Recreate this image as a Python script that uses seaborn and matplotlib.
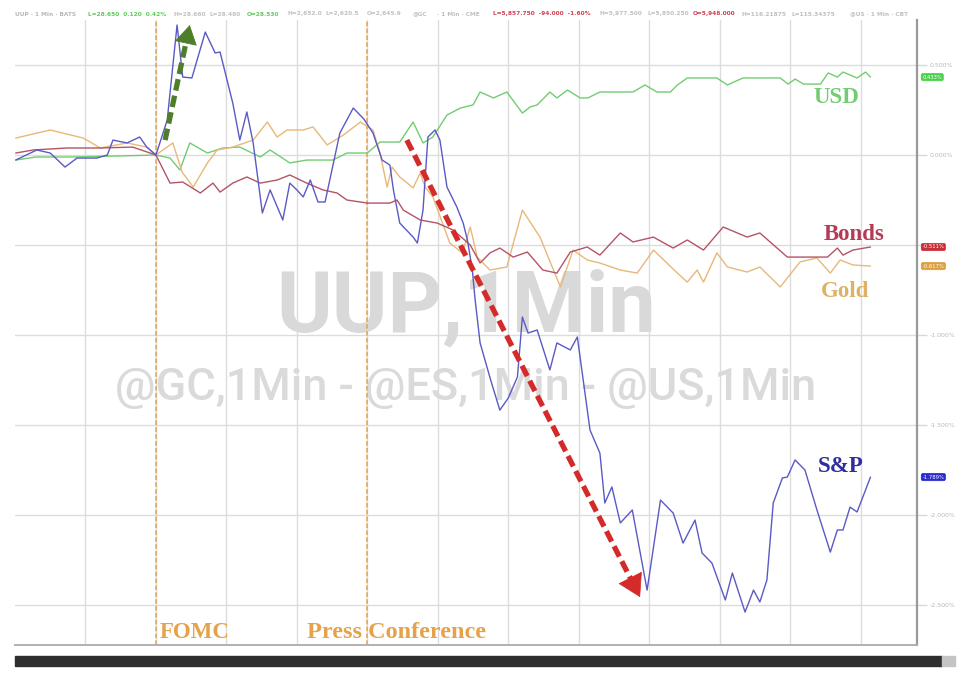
import matplotlib
matplotlib.use("Agg")
import numpy as np
import matplotlib.pyplot as plt
import matplotlib.transforms as mtransforms
from matplotlib.patches import Rectangle
import seaborn as sns

# === DATA: minutes after 13:40, % change vs 14:00 (FOMC) ===
sp_t = [0.1, 3.1, 5.0, 7.1, 8.8, 11.6, 13.1, 13.9, 15.9, 17.7, 18.7, 20.0, 21.6, 23.0, 23.8,
        25.1, 27.0, 28.4, 29.1, 30.9, 31.9, 32.9, 33.8, 35.1, 36.2, 38.0, 39.0, 40.0, 40.9,
        41.9, 43.0, 44.0, 46.1, 48.0, 49.5, 50.8, 52.1, 53.2, 53.7, 54.6, 56.5, 57.1, 57.9,
        58.6, 59.6, 60.3, 61.3, 62.7, 63.6, 64.2, 64.9, 65.3, 66.0, 67.5, 68.8, 70.0, 71.3,
        72.0, 72.8, 74.1, 75.9, 76.9, 78.8, 79.8, 81.6, 83.0, 83.7, 84.7, 85.9, 87.6, 89.7,
        91.6, 93.4, 94.8, 96.5, 97.5, 98.9, 100.8, 101.8, 103.6, 104.8, 105.7, 106.7, 107.6,
        108.9, 109.6, 110.7, 112.1, 113.8, 115.7, 116.7, 117.5, 118.5, 119.5, 121.4]
sp_v = [-0.028, 0.028, 0.011, -0.067, -0.017, -0.017, 0.0, 0.083, 0.067, 0.100, 0.044, 0.0,
        0.194, 0.722, 0.433, 0.428, 0.683, 0.567, 0.572, 0.289, 0.083, 0.239, 0.067, -0.322,
        -0.194, -0.361, -0.156, -0.194, -0.233, -0.139, -0.261, -0.261, 0.122, 0.261, 0.200,
        0.122, -0.028, -0.056, -0.194, -0.378, -0.456, -0.489, -0.306, 0.100, 0.139, 0.083,
        -0.178, -0.289, -0.378, -0.472, -0.639, -0.806, -1.044, -1.250, -1.417, -1.350,
        -1.233, -0.900, -0.989, -0.972, -1.194, -1.044, -1.083, -1.011, -1.528, -1.656,
        -1.933, -1.844, -2.044, -1.972, -2.417, -1.917, -1.989, -2.156, -2.028, -2.211,
        -2.267, -2.472, -2.322, -2.539, -2.417, -2.483, -2.361, -1.933, -1.794, -1.789,
        -1.694, -1.750, -1.972, -2.206, -2.083, -2.083, -1.956, -1.983, -1.789]

usd_t = [0.1, 3.0, 8.0, 14.0, 20.0, 22.0, 23.4, 24.8, 27.3, 29.5, 31.9, 34.8, 36.2, 39.0,
         41.4, 45.1, 47.1, 50.0, 51.8, 54.6, 56.5, 57.9, 59.3, 61.3, 63.2, 65.0, 66.0, 67.9,
         69.8, 72.0, 73.1, 74.1, 75.9, 76.9, 78.4, 80.2, 81.3, 83.0, 87.7, 89.4, 91.1, 93.0,
         94.0, 95.4, 99.6, 101.1, 103.3, 108.6, 109.7, 110.7, 111.9, 114.3, 115.4, 116.7,
         117.5, 119.5, 120.7, 121.4]
usd_v = [-0.028, -0.011, -0.011, -0.006, 0.0, -0.017, -0.083, 0.067, 0.011, 0.039, 0.044,
         -0.011, 0.028, -0.044, -0.028, -0.028, 0.011, 0.011, 0.072, 0.072, 0.183, 0.067,
         0.100, 0.222, 0.261, 0.278, 0.350, 0.317, 0.350, 0.233, 0.267, 0.278, 0.350, 0.317,
         0.361, 0.317, 0.317, 0.350, 0.350, 0.389, 0.350, 0.350, 0.389, 0.428, 0.428, 0.389,
         0.428, 0.428, 0.394, 0.422, 0.394, 0.394, 0.456, 0.433, 0.461, 0.428, 0.461, 0.433]

bonds_t = [0.1, 2.6, 7.4, 12.1, 16.7, 20.0, 22.0, 23.8, 26.3, 28.1, 29.1, 30.9, 32.9, 34.8,
           37.2, 39.0, 41.4, 43.7, 45.7, 47.1, 50.0, 53.2, 54.2, 55.1, 57.5, 59.9, 62.2,
           64.6, 66.0, 67.4, 68.8, 70.7, 72.7, 74.9, 76.9, 78.8, 81.2, 83.0, 85.9, 87.7,
           90.6, 93.4, 95.4, 97.7, 100.5, 103.9, 105.7, 109.6, 112.8, 115.3, 116.7, 117.5,
           118.9, 121.4]
bonds_v = [0.011, 0.028, 0.039, 0.039, 0.044, 0.0, -0.156, -0.150, -0.211, -0.156, -0.206,
           -0.156, -0.122, -0.156, -0.139, -0.111, -0.156, -0.194, -0.211, -0.250, -0.267,
           -0.267, -0.250, -0.306, -0.361, -0.378, -0.417, -0.500, -0.600, -0.544, -0.517,
           -0.567, -0.539, -0.639, -0.656, -0.539, -0.511, -0.556, -0.433, -0.483, -0.456,
           -0.517, -0.472, -0.528, -0.400, -0.456, -0.433, -0.567, -0.567, -0.567, -0.517,
           -0.556, -0.528, -0.511]

gold_t = [0.1, 5.0, 9.7, 12.1, 15.9, 18.7, 20.0, 22.4, 23.7, 25.3, 27.3, 28.7, 30.9, 33.8,
          35.8, 37.2, 38.6, 40.9, 42.3, 44.3, 46.6, 49.0, 50.8, 51.8, 52.8, 53.5, 54.6, 56.5,
          57.5, 58.2, 59.3, 61.7, 63.5, 64.6, 65.6, 67.4, 69.8, 72.0, 74.5, 77.4, 79.2, 81.2,
          83.0, 85.9, 88.3, 90.6, 94.0, 95.4, 96.8, 97.7, 99.6, 101.1, 103.9, 105.7, 108.6,
          111.4, 113.8, 115.7, 117.1, 118.9, 121.4]
gold_v = [0.094, 0.139, 0.094, 0.039, 0.067, 0.044, 0.0, 0.067, -0.094, -0.178, -0.044,
          0.028, 0.044, 0.083, 0.183, 0.100, 0.139, 0.139, 0.156, 0.056, 0.111, 0.183, 0.139,
          0.011, -0.178, -0.067, -0.122, -0.183, -0.100, -0.178, -0.233, -0.489, -0.544,
          -0.400, -0.567, -0.639, -0.622, -0.306, -0.456, -0.733, -0.528, -0.583, -0.600,
          -0.639, -0.656, -0.528, -0.656, -0.706, -0.639, -0.706, -0.544, -0.622, -0.650,
          -0.622, -0.733, -0.594, -0.572, -0.656, -0.583, -0.611, -0.617]

time_ticks = [10, 20, 30, 40, 50, 60, 70, 80, 90, 100, 110, 120]
time_labels = ["13:50", "14:00", "14:10", "14:20", "14:30", "14:40", "14:50", "15:00",
               "15:10", "15:20", "15:30", "15:40"]
pct_ticks = [0.5, 0.0, -0.5, -1.0, -1.5, -2.0, -2.5]
# the -0.500% label sits under the Bonds tag in the original
pct_labels = ["0.500%", "0.000%", "", "-1.000%", "-1.500%", "-2.000%", "-2.500%"]

FOMC_T = 20
PRESS_T = 50

# === STYLE ===
C_SP = "#5a5ac4"
C_USD = "#72cc72"
C_BONDS = "#b45468"
C_GOLD = "#e8b878"
C_EVENT = "#e6a24a"

sns.set_theme(style="white")
plt.rcParams["font.family"] = ["DejaVu Sans"]

fig = plt.figure(figsize=(9.6, 6.73), dpi=100)
W, H = 960, 673
ax = fig.add_axes([15 / W, 1 - 645 / H, (917 - 15) / W, (645 - 20) / H])
ax.set_facecolor("white")
ax.set_axisbelow(True)
ax.set_xlim(0, 128)
ax.set_ylim(-2.722, 0.75)

# watermark (drawn under the lines)
ax.text(0.5, (645 - 308) / 625, "UUP,1Min", transform=ax.transAxes,
        ha="center", va="center", fontsize=61, fontweight="bold", family="Roboto",
        color="#d9d9d9", zorder=1)
ax.text(0.5, (645 - 388) / 625, "@GC,1Min - @ES,1Min - @US,1Min",
        transform=ax.transAxes, ha="center", va="center", fontsize=32.5, fontweight="medium",
        family="Roboto", color="#dadada", zorder=1)

for t, v, c in [(usd_t, usd_v, C_USD), (gold_t, gold_v, C_GOLD),
                (bonds_t, bonds_v, C_BONDS), (sp_t, sp_v, C_SP)]:
    sns.lineplot(x=t, y=v, ax=ax, color=c, linewidth=1.0, sort=False, estimator=None, zorder=3)

# event lines
for t in (FOMC_T, PRESS_T):
    ax.axvline(t, color=C_EVENT, lw=1.1, ls=(0, (3, 1.5)), zorder=2)

ax.text(FOMC_T + 0.6, -2.65, "FOMC", family="Liberation Serif", fontweight="bold",
        fontsize=16.5, color=C_EVENT, ha="left", va="center", zorder=4)
ax.text(41.4, -2.65, "Press Conference", family="Liberation Serif", fontweight="bold",
        fontsize=17.5, color=C_EVENT, ha="left", va="center", zorder=4)


# dashed arrows: dashed shaft, solid head placed at the tip
def dashed_arrow(tail, tip, color, head_px):
    p0 = ax.transData.transform(tail)
    p1 = ax.transData.transform(tip)
    d = (p1 - p0) / np.hypot(*(p1 - p0))
    back = ax.transData.inverted().transform(p1 - d * head_px)
    ax.plot([tail[0], back[0]], [tail[1], back[1]], color=color, lw=3.8,
            dashes=(2.2, 1.0), dash_capstyle="butt", zorder=5)
    ax.annotate("", xy=tip, xytext=back,
                arrowprops=dict(arrowstyle="-|>,head_length=1.0,head_width=0.6",
                                color=color, lw=0.5, mutation_scale=head_px * 0.75,
                                shrinkA=0, shrinkB=0), zorder=5)


dashed_arrow((21.3, 0.083), (24.8, 0.722), "#4e7e2a", 17)
dashed_arrow((55.6, 0.083), (88.7, -2.456), "#d42a2a", 20)

# series labels
lab = dict(family="Liberation Serif", fontweight="bold", fontsize=16.5, ha="center",
           va="center", zorder=4)
ax.text(116.5, 0.317, "USD", color=C_USD, **lab)
ax.text(119.0, -0.444, "Bonds", color="#b53a55", **lab)
ax.text(117.8, -0.761, "Gold", color="#dcb264", **lab)
ax.text(117.1, -1.733, "S&P", color="#2e2e9c", **lab)

# axes, grid, ticks
ax.set_xticks(time_ticks)
ax.set_xticklabels(time_labels)
ax.set_yticks(pct_ticks)
ax.set_yticklabels(pct_labels)
ax.grid(True, color="#dcdcdc", lw=1.0)
ax.set_xlabel("")
ax.set_ylabel("")
ax.yaxis.tick_right()
ax.tick_params(axis="y", right=True, left=False, labelright=True, labelleft=False,
               length=7, width=1, color="#d8d8d8", labelsize=4.5, labelcolor="#b8b8b8", pad=2)
ax.tick_params(axis="x", bottom=False, labelsize=4.5, labelcolor="#b8b8b8", pad=3)
for side in ("left", "top"):
    ax.spines[side].set_visible(False)
ax.spines["right"].set_color("#9a9a9a")
ax.spines["right"].set_linewidth(1.6)
ax.spines["bottom"].set_color("#b0b0b0")
ax.spines["bottom"].set_linewidth(1.4)

# last value tags on the right axis
tag_tf = mtransforms.blended_transform_factory(ax.transAxes, ax.transData)
for v, c in [(usd_v[-1], "#4ad04a"), (bonds_v[-1], "#c83038"),
             (gold_v[-1], "#dca040"), (sp_v[-1], "#2a2ad0")]:
    ax.text(1.006, v, f"{v:.3f}%", transform=tag_tf, ha="left", va="center", fontsize=3.8,
            color="white", clip_on=False, zorder=6,
            bbox=dict(boxstyle="round,pad=0.22,rounding_size=0.35", fc=c, ec=c, lw=0.5))

# header line of the terminal
header = [
    (15, "UUP · 1 Min · BATS", "#b8b8b8"),
    (88, "L=28.650  0.120  0.42%", "#5ccc5c"),
    (173, "H=28.660", "#c0c0c0"),
    (210, "L=28.480", "#c0c0c0"),
    (247, "O=28.530", "#5ccc5c"),
    (287, "H=2,652.0", "#c0c0c0"),
    (325, "L=2,620.5", "#c0c0c0"),
    (367, "O=2,645.9", "#c0c0c0"),
    (413, "@GC", "#c0c0c0"),
    (437, "· 1 Min · CME", "#c0c0c0"),
    (493, "L=5,857.750  -94.000  -1.60%", "#d04050"),
    (600, "H=5,977.500", "#c0c0c0"),
    (648, "L=5,850.250", "#c0c0c0"),
    (693, "O=5,948.000", "#d04050"),
    (742, "H=116.21875", "#c0c0c0"),
    (792, "L=115.34375", "#c0c0c0"),
    (850, "@US · 1 Min · CBT", "#c0c0c0"),
]
for x, s, c in header:
    fig.text(x / W, 1 - 14 / H, s, fontsize=4.2, color=c, ha="left", va="center",
             fontweight="bold")

# bottom scroll bar
fig.patches.append(Rectangle((15 / W, 1 - 666 / H), (942 - 15) / W, 10 / H,
                             transform=fig.transFigure, color="#2e2e2e", zorder=5))
fig.patches.append(Rectangle((942 / W, 1 - 666 / H), 13 / W, 10 / H,
                             transform=fig.transFigure, color="#c4c4c4", zorder=5))

fig.savefig("out.png", dpi=100, facecolor="white")
